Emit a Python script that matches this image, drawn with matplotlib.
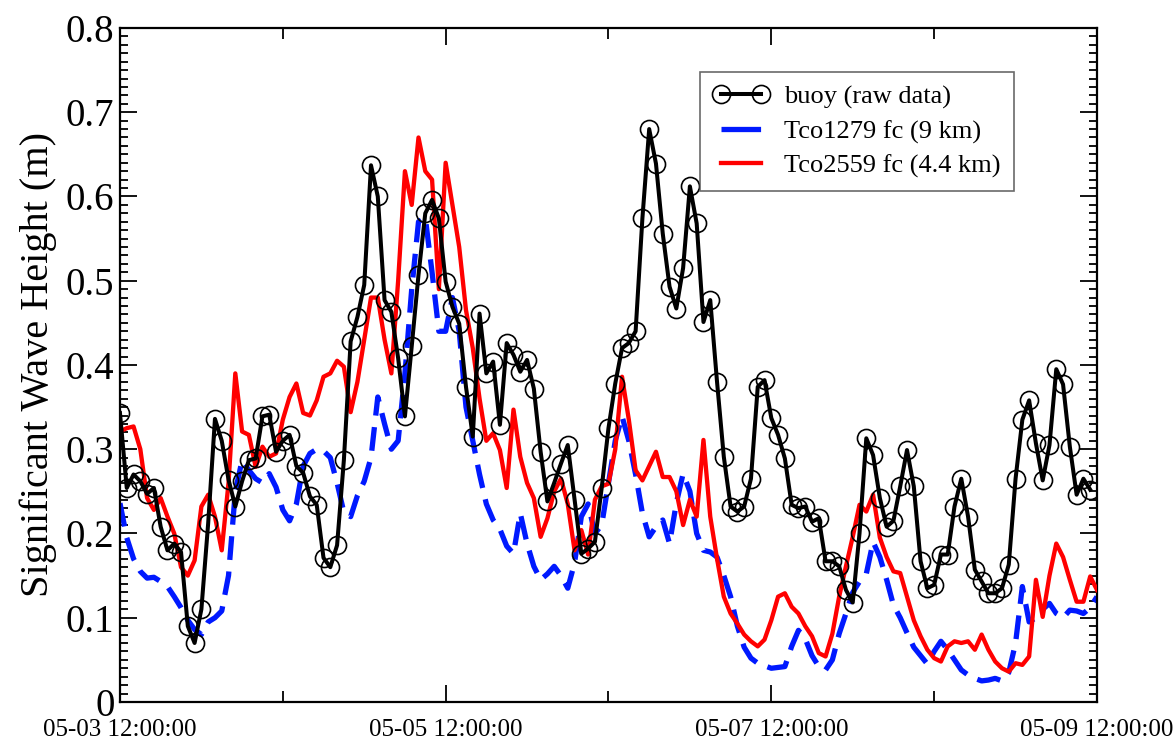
import matplotlib
matplotlib.use("Agg")
import matplotlib.pyplot as plt
import numpy as np

plt.rcParams['font.family'] = ['Liberation Serif', 'DejaVu Serif']

# hours since 05-03 12:00:00, one value per hour
hours = np.arange(145)

buoy = [0.343, 0.254, 0.270, 0.262, 0.247, 0.254, 0.208, 0.180, 0.188, 0.178,
        0.090, 0.070, 0.110, 0.212, 0.336, 0.310, 0.264, 0.232, 0.262, 0.287,
        0.289, 0.339, 0.341, 0.297, 0.310, 0.317, 0.280, 0.272, 0.244, 0.234,
        0.171, 0.160, 0.186, 0.287, 0.428, 0.457, 0.495, 0.637, 0.600, 0.477,
        0.463, 0.408, 0.339, 0.422, 0.507, 0.580, 0.596, 0.574, 0.499, 0.469,
        0.449, 0.374, 0.315, 0.461, 0.390, 0.404, 0.329, 0.426, 0.412, 0.392,
        0.406, 0.372, 0.297, 0.238, 0.260, 0.283, 0.305, 0.240, 0.176, 0.182,
        0.190, 0.254, 0.325, 0.378, 0.420, 0.426, 0.440, 0.574, 0.680, 0.639,
        0.556, 0.493, 0.467, 0.515, 0.612, 0.568, 0.451, 0.477, 0.380, 0.291,
        0.232, 0.226, 0.232, 0.265, 0.374, 0.382, 0.337, 0.317, 0.289, 0.234,
        0.230, 0.232, 0.214, 0.218, 0.167, 0.167, 0.161, 0.133, 0.118, 0.200,
        0.313, 0.293, 0.242, 0.208, 0.215, 0.256, 0.299, 0.256, 0.167, 0.135,
        0.139, 0.175, 0.175, 0.232, 0.265, 0.220, 0.157, 0.143, 0.129, 0.129,
        0.135, 0.163, 0.265, 0.335, 0.358, 0.307, 0.263, 0.305, 0.395, 0.377,
        0.303, 0.246, 0.265, 0.252]

tco1279 = [0.236, 0.195, 0.170, 0.155, 0.147, 0.148, 0.143, 0.137, 0.125, 0.112,
           0.097, 0.086, 0.080, 0.095, 0.100, 0.108, 0.150, 0.250, 0.287, 0.275,
           0.265, 0.260, 0.271, 0.255, 0.228, 0.215, 0.235, 0.280, 0.295, 0.300,
           0.298, 0.290, 0.260, 0.225, 0.220, 0.245, 0.262, 0.290, 0.362, 0.330,
           0.300, 0.310, 0.390, 0.490, 0.570, 0.575, 0.510, 0.440, 0.440, 0.480,
           0.440, 0.350, 0.310, 0.270, 0.235, 0.216, 0.205, 0.185, 0.176, 0.224,
           0.188, 0.161, 0.145, 0.152, 0.161, 0.150, 0.135, 0.165, 0.220, 0.235,
           0.200, 0.210, 0.260, 0.310, 0.339, 0.310, 0.270, 0.224, 0.196, 0.208,
           0.216, 0.188, 0.236, 0.271, 0.250, 0.200, 0.180, 0.178, 0.172, 0.150,
           0.125, 0.090, 0.065, 0.052, 0.046, 0.043, 0.040, 0.041, 0.042, 0.066,
           0.085, 0.075, 0.055, 0.042, 0.038, 0.050, 0.081, 0.105, 0.130, 0.143,
           0.152, 0.190, 0.172, 0.145, 0.115, 0.100, 0.082, 0.065, 0.055, 0.045,
           0.060, 0.072, 0.062, 0.050, 0.038, 0.032, 0.028, 0.025, 0.026, 0.028,
           0.025, 0.035, 0.070, 0.137, 0.095, 0.100, 0.110, 0.117, 0.105, 0.100,
           0.109, 0.108, 0.105, 0.112, 0.125]

tco2559 = [0.321, 0.325, 0.327, 0.300, 0.242, 0.228, 0.242, 0.220, 0.200, 0.160,
           0.150, 0.168, 0.232, 0.246, 0.220, 0.180, 0.260, 0.390, 0.321, 0.317,
           0.279, 0.303, 0.291, 0.295, 0.335, 0.362, 0.378, 0.343, 0.340, 0.358,
           0.386, 0.390, 0.405, 0.398, 0.344, 0.380, 0.430, 0.480, 0.480, 0.430,
           0.390, 0.500, 0.630, 0.590, 0.670, 0.630, 0.620, 0.490, 0.640, 0.590,
           0.540, 0.465, 0.420, 0.360, 0.310, 0.319, 0.299, 0.254, 0.347, 0.291,
           0.260, 0.242, 0.196, 0.218, 0.250, 0.265, 0.235, 0.180, 0.204, 0.175,
           0.240, 0.256, 0.259, 0.300, 0.386, 0.335, 0.275, 0.263, 0.280, 0.297,
           0.267, 0.267, 0.250, 0.210, 0.240, 0.220, 0.311, 0.220, 0.170, 0.125,
           0.105, 0.093, 0.080, 0.072, 0.066, 0.074, 0.097, 0.125, 0.129, 0.113,
           0.105, 0.090, 0.078, 0.058, 0.054, 0.081, 0.125, 0.161, 0.196, 0.234,
           0.226, 0.246, 0.195, 0.172, 0.155, 0.153, 0.125, 0.097, 0.078, 0.062,
           0.052, 0.048, 0.066, 0.072, 0.070, 0.072, 0.062, 0.080, 0.062, 0.048,
           0.040, 0.036, 0.046, 0.044, 0.054, 0.145, 0.101, 0.150, 0.188, 0.172,
           0.145, 0.119, 0.119, 0.149, 0.133]

xtick_pos = [0, 48, 96, 144]
xtick_labels = ['05-03 12:00:00', '05-05 12:00:00', '05-07 12:00:00', '05-09 12:00:00']
ytick_pos = [0, 0.1, 0.2, 0.3, 0.4, 0.5, 0.6, 0.7, 0.8]
ytick_labels = ['0', '0.1', '0.2', '0.3', '0.4', '0.5', '0.6', '0.7', '0.8']

fig = plt.figure(figsize=(11.75, 7.4), dpi=100)
ax = fig.add_axes([0.1021, 0.0514, 0.8315, 0.9108])

ax.plot(hours, tco1279, color='#0019ff', lw=3.8, dashes=(4.5, 2.2),
        label='Tco1279 fc (9 km)', zorder=2)
ax.plot(hours, tco2559, color='#ff0000', lw=3.1, label='Tco2559 fc (4.4 km)', zorder=3)
ax.plot(hours[:len(buoy)], buoy, color='black', lw=2.9, marker='o', ms=13,
        mfc='none', mec='black', mew=1.2, label='buoy (raw data)', zorder=4)

ax.set_xlim(0, 144)
ax.set_ylim(0, 0.8)
ax.set_xticks(xtick_pos)
ax.set_xticklabels(xtick_labels, fontsize=18)
ax.set_xticks([24, 72, 120], minor=True)
ax.set_yticks(ytick_pos)
ax.set_yticklabels(ytick_labels, fontsize=28)
ax.set_yticks(np.arange(0, 0.801, 0.01), minor=True)
ax.tick_params(which='both', direction='in', top=True, right=True, width=1.3)
ax.tick_params(which='major', length=12)
ax.tick_params(which='minor', length=6)
ax.tick_params(axis='x', which='minor', length=8)
ax.tick_params(axis='x', which='major', pad=12)
ax.tick_params(axis='y', which='major', pad=4)
for s in ax.spines.values():
    s.set_linewidth(1.6)

ax.set_ylabel('Significant Wave Height (m)', fontsize=29, labelpad=6)

handles, labels = ax.get_legend_handles_labels()
order = [2, 0, 1]
leg = ax.legend([handles[i] for i in order], [labels[i] for i in order],
                loc='upper left', bbox_to_anchor=(0.5937, 0.9347), borderaxespad=0,
                fontsize=19, frameon=True, fancybox=False, edgecolor='#444444',
                numpoints=2, handlelength=2.1, borderpad=0.5, labelspacing=0.4,
                handletextpad=0.6)
leg.get_frame().set_linewidth(1.2)
# the blue legend sample is one long dash in the original
leg.get_lines()[1].set_dashes((7.5, 3))

fig.savefig('out.png', dpi=100)
